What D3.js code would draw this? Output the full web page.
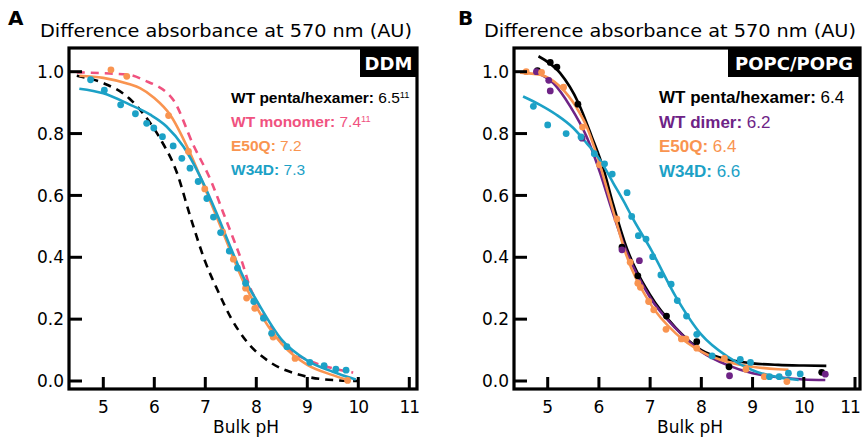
<!DOCTYPE html>
<html>
<head>
<meta charset="utf-8">
<script src="https://cdn.jsdelivr.net/npm/d3@7"></script>
<style>
  body { margin: 0; background: #fff; }
  svg { font-family: "DejaVu Sans", sans-serif; }
</style>
</head>
<body>
<svg id="chart" width="862" height="441"></svg>
<script>
// ---- data ----
var xTicks = [5, 6, 7, 8, 9, 10, 11];
var yTicks = [0.0, 0.2, 0.4, 0.6, 0.8, 1.0];

// panel A (DDM)  [pH, absorbance]
var ddmPentaFit = [[4.48,0.987],[5,0.963],[5.5,0.915],[5.72,0.877],[6.11,0.785],[6.44,0.675],[6.7,0.535],[7,0.385],[7.25,0.29],[7.5,0.205],[7.8,0.13],[8.25,0.063],[8.85,0.02],[9.5,0.003],[10,0.0]];
var ddmMonomerFit = [[4.48,0.998],[5,0.995],[5.5,0.99],[5.78,0.974],[6.37,0.909],[6.76,0.765],[7.13,0.64],[7.35,0.545],[7.55,0.46],[7.75,0.37],[7.86,0.31],[8,0.26],[8.5,0.122],[8.73,0.09],[9,0.068],[9.5,0.041],[9.9,0.027]];
var ddmE50QPts = [[5.15,1.006],[5.46,0.985],[6.28,0.858],[6.67,0.742],[6.99,0.621],[7.34,0.481],[7.55,0.394],[7.79,0.30],[7.81,0.268],[7.97,0.235],[8.31,0.152],[8.33,0.142],[8.76,0.073],[9.79,0.002]];
var ddmE50QFit = [[4.53,0.987],[5,0.98],[5.5,0.96],[5.72,0.947],[6,0.915],[6.31,0.861],[6.67,0.748],[6.99,0.624],[7.22,0.532],[7.5,0.418],[7.75,0.32],[8,0.24],[8.5,0.12],[9,0.052],[9.5,0.019],[9.8,0.003]];
var ddmW34DPts = [[4.75,0.974],[5.02,0.94],[5.34,0.893],[5.63,0.864],[5.85,0.833],[5.99,0.818],[6.16,0.79],[6.37,0.76],[6.54,0.72],[6.70,0.688],[6.86,0.645],[7.03,0.59],[7.16,0.53],[7.30,0.48],[7.47,0.42],[7.63,0.365],[7.79,0.316],[7.95,0.257],[8.14,0.203],[8.30,0.154],[8.60,0.111],[9.05,0.06],[9.33,0.05],[9.56,0.038],[9.76,0.035]];
var ddmW34DFit = [[4.53,0.945],[5,0.93],[5.5,0.895],[5.92,0.861],[6.24,0.823],[6.57,0.758],[6.9,0.661],[7.22,0.543],[7.5,0.43],[7.75,0.335],[8,0.262],[8.5,0.133],[9,0.066],[9.5,0.03],[9.95,0.005]];

// panel B (POPC/POPG)
var lipPentaPts = [[4.80,1.003],[5.05,1.03],[5.18,1.015],[5.59,0.895],[6.45,0.433],[6.76,0.34],[7.32,0.21],[7.91,0.127],[8.54,0.046],[10.35,0.028]];
var lipPentaFit = [[4.82,1.05],[5.24,0.996],[5.6,0.899],[5.86,0.79],[6.09,0.685],[6.28,0.57],[6.5,0.45],[7,0.278],[7.5,0.172],[8,0.10],[8.5,0.07],[9,0.057],[9.5,0.052],[10,0.05],[10.44,0.049]];
var lipDimerPts = [[4.78,1.0],[5.02,0.972],[5.05,0.938],[5.67,0.785],[6.45,0.424],[6.79,0.389],[8.55,0.017],[10.42,0.022]];
var lipDimerFit = [[4.75,1.0],[5.11,0.963],[5.44,0.888],[5.76,0.79],[6.02,0.675],[6.25,0.555],[6.5,0.435],[7,0.27],[7.5,0.17],[8,0.095],[8.5,0.052],[9,0.025],[9.5,0.012],[10,0.005],[10.42,0.003]];
var lipE50QPts = [[4.58,1.0],[4.88,0.998],[5.31,0.95],[5.68,0.821],[6.01,0.699],[6.35,0.524],[6.61,0.384],[6.76,0.316],[6.81,0.303],[6.97,0.257],[7.07,0.23],[7.31,0.167],[7.61,0.136],[7.70,0.136],[7.91,0.106],[8.45,0.073],[8.87,0.038],[9.23,0.014],[9.67,-0.002]];
var lipE50QFit = [[4.46,0.997],[4.85,0.99],[5.24,0.952],[5.57,0.882],[5.76,0.823],[5.99,0.715],[6.31,0.532],[6.5,0.424],[7,0.251],[7.5,0.154],[8,0.095],[8.5,0.062],[9,0.046],[9.5,0.038],[9.7,0.036]];
var lipW34DPts = [[4.72,0.888],[5.0,0.828],[5.36,0.80],[5.65,0.789],[5.91,0.735],[6.11,0.702],[6.26,0.669],[6.55,0.609],[6.64,0.532],[6.77,0.47],[6.92,0.459],[7.05,0.402],[7.21,0.343],[7.41,0.313],[7.53,0.26],[7.71,0.21],[7.91,0.151],[8.21,0.081],[8.76,0.07],[8.96,0.06],[9.33,0.014],[9.52,0.014],[9.70,0.025],[9.93,0.023]];
var lipW34DFit = [[4.52,0.92],[4.85,0.893],[5.17,0.861],[5.5,0.818],[5.76,0.769],[6.02,0.715],[6.28,0.64],[6.54,0.564],[6.64,0.532],[7.02,0.424],[7.5,0.273],[8,0.15],[8.5,0.08],[9,0.035],[9.5,0.012],[9.9,0.003]];

var ddmNames = ["WT penta/hexamer:", "WT monomer:", "E50Q:", "W34D:"];
var ddmValues = ["6.5", "7.4", "7.2", "7.3"];
var ddmRefs = ["11", "11", "", ""];
var lipNames = ["WT penta/hexamer:", "WT dimer:", "E50Q:", "W34D:"];
var lipValues = ["6.4", "6.2", "6.4", "6.6"];

var BLACK = "#000000", PINK = "#f0527f", ORANGE = "#f99450", TEAL = "#1ca1c6", PURPLE = "#6e2386";

var svg = d3.select("#chart");

function drawPanel(p) {
    var x = d3.scaleLinear().domain([5, 11]).range(p.xRange);
    var y = d3.scaleLinear().domain([0, 1]).range([381, 71.7]);
    var g = svg.append("g");

    // panel letter + y title
    g.append("text").text(p.letter)
        .attr("x", p.letterX).attr("y", 25)
        .attr("font-size", 20).attr("font-weight", "bold");
    g.append("text").text("Difference absorbance at 570 nm (AU)")
        .attr("x", p.titleX).attr("y", 37)
        .attr("font-size", 18)
        .attr("textLength", 372)
        .attr("lengthAdjust", "spacingAndGlyphs");

    var line = d3.line()
        .x(function(d) { return x(d[0]); })
        .y(function(d) { return y(d[1]); })
        .curve(d3.curveMonotoneX);

    p.fits.forEach(function(f) {
        g.append("path").datum(f.data)
            .attr("d", line)
            .attr("fill", "none")
            .attr("stroke", f.color)
            .attr("stroke-width", 2.6)
            .attr("stroke-dasharray", f.dashed ? "8,6" : null);
    });

    p.points.forEach(function(s) {
        g.selectAll(null).data(s.data).enter().append("circle")
            .attr("cx", function(d) { return x(d[0]); })
            .attr("cy", function(d) { return y(d[1]); })
            .attr("r", 3.4)
            .attr("fill", s.color);
    });

    // frame
    g.append("rect")
        .attr("x", p.frame[0]).attr("y", 48)
        .attr("width", p.frame[1] - p.frame[0]).attr("height", 389 - 48)
        .attr("fill", "none").attr("stroke", "#000").attr("stroke-width", 3.2);

    // y ticks
    g.selectAll(null).data(yTicks).enter().append("line")
        .attr("x1", p.frame[0]).attr("x2", p.frame[0] + 13)
        .attr("y1", function(d) { return y(d); }).attr("y2", function(d) { return y(d); })
        .attr("stroke", "#000").attr("stroke-width", 3);
    g.selectAll(null).data(yTicks).enter().append("text")
        .text(function(d) { return d.toFixed(1); })
        .attr("x", p.frame[0] - 5)
        .attr("y", function(d) { return y(d); })
        .attr("dy", "0.36em")
        .attr("text-anchor", "end")
        .attr("font-size", 17);

    // x ticks
    g.selectAll(null).data(xTicks).enter().append("line")
        .attr("x1", function(d) { return x(d); }).attr("x2", function(d) { return x(d); })
        .attr("y1", 389).attr("y2", 377)
        .attr("stroke", "#000").attr("stroke-width", 3);
    g.selectAll(null).data(xTicks).enter().append("text")
        .text(function(d) { return d; })
        .attr("x", function(d) { return Math.min(x(d), 850); })
        .attr("y", 413)
        .attr("text-anchor", "middle")
        .attr("letter-spacing", function(d) { return d > 9 ? -1 : 0; })
        .attr("font-size", 17);
    g.append("text").text("Bulk pH")
        .attr("x", p.xLabelX).attr("y", 433)
        .attr("text-anchor", "middle")
        .attr("font-size", 17);

    // condition tag
    g.append("rect")
        .attr("x", p.tagX).attr("y", 48)
        .attr("width", p.frame[1] - p.tagX).attr("height", 29)
        .attr("fill", "#000");
    g.append("text").text(p.tag)
        .attr("x", (p.tagX + p.frame[1]) / 2).attr("y", 69.5)
        .attr("text-anchor", "middle")
        .attr("font-size", 18).attr("font-weight", "bold")
        .attr("fill", "#fff");

    // legend
    p.names.forEach(function(name, i) {
        var t = g.append("text")
            .attr("x", p.legendX).attr("y", 103 + i * p.legendStep)
            .style("font-family", "'Liberation Sans', Arial, sans-serif")
            .attr("font-size", p.legendSize)
            .attr("fill", p.legendColors[i]);
        t.append("tspan").text(name + " ").attr("font-weight", "bold");
        t.append("tspan").text(p.values[i]);
        if (p.refs && p.refs[i]) {
            t.append("tspan").text(p.refs[i])
                .attr("font-size", p.legendSize * 0.6)
                .attr("dy", -5);
        }
    });
}

drawPanel({
    letter: "A", letterX: 8, titleX: 40,
    xRange: [103.3, 409.3], frame: [69, 417], xLabelX: 246,
    tag: "DDM", tagX: 360,
    fits: [
        { data: ddmPentaFit, color: BLACK, dashed: true },
        { data: ddmMonomerFit, color: PINK, dashed: true },
        { data: ddmE50QFit, color: ORANGE },
        { data: ddmW34DFit, color: TEAL }
    ],
    points: [
        { data: ddmE50QPts, color: ORANGE },
        { data: ddmW34DPts, color: TEAL }
    ],
    names: ddmNames, values: ddmValues, refs: ddmRefs,
    legendColors: [BLACK, PINK, ORANGE, TEAL],
    legendX: 231, legendStep: 24, legendSize: 15.5
});

drawPanel({
    letter: "B", letterX: 458, titleX: 484,
    xRange: [547.7, 855], frame: [514, 860], xLabelX: 690,
    tag: "POPC/POPG", tagX: 728,
    fits: [
        { data: lipPentaFit, color: BLACK },
        { data: lipDimerFit, color: PURPLE },
        { data: lipE50QFit, color: ORANGE },
        { data: lipW34DFit, color: TEAL }
    ],
    points: [
        { data: lipPentaPts, color: BLACK },
        { data: lipDimerPts, color: PURPLE },
        { data: lipE50QPts, color: ORANGE },
        { data: lipW34DPts, color: TEAL }
    ],
    names: lipNames, values: lipValues,
    legendColors: [BLACK, PURPLE, ORANGE, TEAL],
    legendX: 659, legendStep: 24.6, legendSize: 17
});
</script>
</body>
</html>
